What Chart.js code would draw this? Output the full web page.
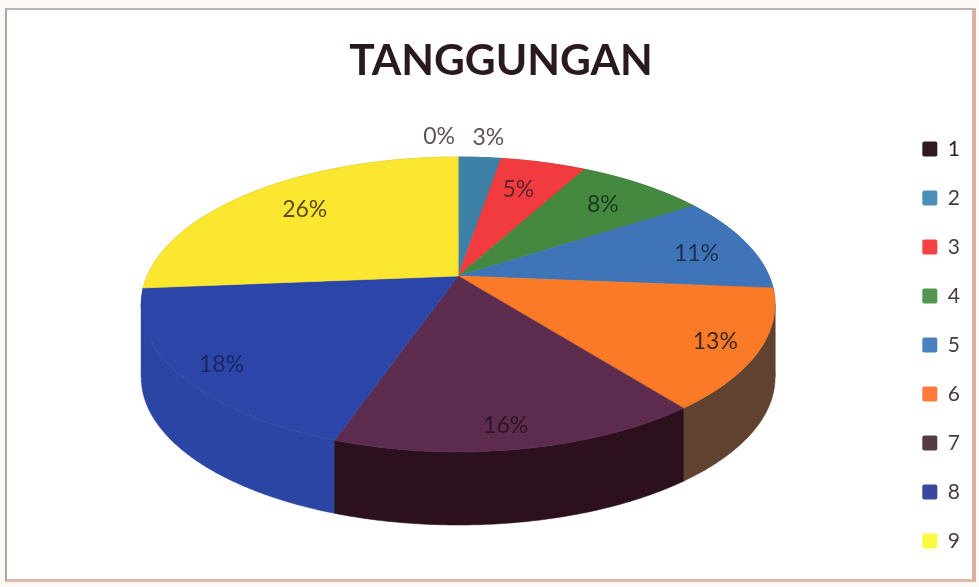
<!DOCTYPE html>
<html><head><meta charset="utf-8">
<script src="https://cdn.jsdelivr.net/npm/chart.js@4/dist/chart.umd.min.js"></script>
<style>
html,body{margin:0;padding:0;background:#fbf8f5;width:979px;height:587px;overflow:hidden}
#frame{position:absolute;left:5px;top:8px;width:965px;height:569px;background:#fff;
 border-top:2px solid #b9b5b5;border-left:2px solid #aaa6a6;border-right:4px solid #dcae9e;border-bottom:3px solid #dfb9aa}
canvas{position:absolute;left:0;top:0}
</style></head><body>
<div id="frame"></div>
<canvas id="c" width="979" height="587"></canvas>
<script>
const categories = ['1','2','3','4','5','6','7','8','9'];
const values = [0,1,2,3,4,5,6,7,10];
const percentLabels = ['0%','3%','5%','8%','11%','13%','16%','18%','26%'];
const topColors = ['#2e1a20','#3d82a6','#f23b3e','#44893f','#3f75b8','#fb7a28','#5c2b4e','#2b46a8','#fbe630'];
const sideColors = ['#1e1015','#2b5f79','#a82a2c','#2f602c','#2c5282','#5f422f','#2c101e','#2a45a4','#b0a222'];
const legendColors = ['#2e1a20','#4a8fb5','#f54242','#529650','#4a80bd','#fb7a3c','#523c42','#3a47a0','#fafa40'];
const labelColors = ['#5f5358','#5f5358','#5f2430','#1b3a1e','#1c2f4c','#3b2a20','#2c1626','#1c2660','#5c4c1c'];
const labelRadii = [1.21,1.21,0.72,0.75,0.80,0.85,0.885,0.898,0.767];
const labelNudgeX = [-19,5,-4,2,6,5,-7,10,6];
const labelNudgeY = [0,0,-1,-1,4,3,1,1,1];

const tilt = {offsetX:-5, offsetY:-69, scaleX:1.323, scaleY:0.604, depth:0.311, persp:0.193};
function project(el, r, a){
  const R = el.outerRadius, u = r*Math.cos(a), v = r*Math.sin(a), d = 1 - tilt.persp*v;
  return {x: el.x + tilt.offsetX + tilt.scaleX*R*u/d, y: el.y + tilt.offsetY + tilt.scaleY*R*v/d};
}
function rim(el){
  const n = Math.max(2, Math.ceil((el.endAngle-el.startAngle)/0.01)), pts = [];
  for(let i=0;i<=n;i++) pts.push(project(el,1,el.startAngle+(el.endAngle-el.startAngle)*i/n));
  return pts;
}
function monotonicRuns(pts){
  const runs = []; let run = [pts[0]], dir = 0;
  for(let k=1;k<pts.length;k++){
    const s = Math.sign(pts[k].x-pts[k-1].x);
    if(dir && s && s!==dir){ runs.push(run); run = [pts[k-1]]; }
    if(s) dir = s;
    run.push(pts[k]);
  }
  runs.push(run);
  return runs;
}
const pie3d = {
  id:'pie3d',
  beforeDatasetDraw(chart){
    const ctx = chart.ctx, arcs = chart.getDatasetMeta(0).data;
    const visible = arcs.map((el,i)=>({el,i,pts:rim(el)})).filter(o=>o.el.endAngle-o.el.startAngle>1e-6);
    const lowest = o=>Math.max(...o.pts.map(p=>p.y));
    [...visible].sort((a,b)=>lowest(a)-lowest(b)).forEach(({el,i,pts})=>{
      const D = tilt.depth*el.outerRadius;
      ctx.fillStyle = sideColors[i]; ctx.strokeStyle = sideColors[i]; ctx.lineWidth = .6;
      monotonicRuns(pts).forEach(run=>{
        ctx.beginPath();
        run.forEach((p,k)=>k?ctx.lineTo(p.x,p.y):ctx.moveTo(p.x,p.y));
        for(let k=run.length-1;k>=0;k--) ctx.lineTo(run[k].x,run[k].y+D);
        ctx.closePath(); ctx.fill(); ctx.stroke();
      });
    });
    visible.forEach(({el,i,pts})=>{
      const c = project(el,0,0);
      ctx.beginPath(); ctx.moveTo(c.x,c.y);
      pts.forEach(p=>ctx.lineTo(p.x,p.y));
      ctx.closePath();
      ctx.fillStyle = topColors[i]; ctx.strokeStyle = topColors[i]; ctx.lineWidth = .6;
      ctx.fill(); ctx.stroke();
    });
    return false;
  },
  afterDraw(chart){
    const ctx = chart.ctx, arcs = chart.getDatasetMeta(0).data;
    ctx.save();
    ctx.font = '23px Lato'; ctx.textAlign='center'; ctx.textBaseline='middle';
    arcs.forEach((el,i)=>{
      const p = project(el,labelRadii[i],(el.startAngle+el.endAngle)/2);
      ctx.fillStyle = labelColors[i];
      ctx.fillText(percentLabels[i], p.x+labelNudgeX[i], p.y+labelNudgeY[i]);
    });
    ctx.restore();
  }
};
new Chart(document.getElementById('c'),{
  type:'pie',
  data:{labels:categories,datasets:[{data:values,backgroundColor:topColors,borderWidth:0}]},
  plugins:[pie3d],
  options:{
    responsive:false,animation:false,
    layout:{padding:{left:32,bottom:7,right:9}},
    plugins:{
      tooltip:{enabled:false},
      title:{display:true,text:'TANGGUNGAN',color:'#2a1a1f',font:{family:'Lato',size:42.5,weight:'bold'},padding:{top:36,bottom:23}},
      legend:{position:'right',fullSize:false,labels:{
        boxWidth:15,boxHeight:15,padding:28,color:'#4a3a40',font:{family:'Lato',size:21},
        generateLabels(){return categories.map((t,i)=>({text:t,fillStyle:legendColors[i],strokeStyle:legendColors[i],lineWidth:0,borderRadius:2,hidden:false,index:i,fontColor:i===0?'#2e1a20':'#4a3a40'}));}
      }}
    }
  }
});
</script>
</body></html>
